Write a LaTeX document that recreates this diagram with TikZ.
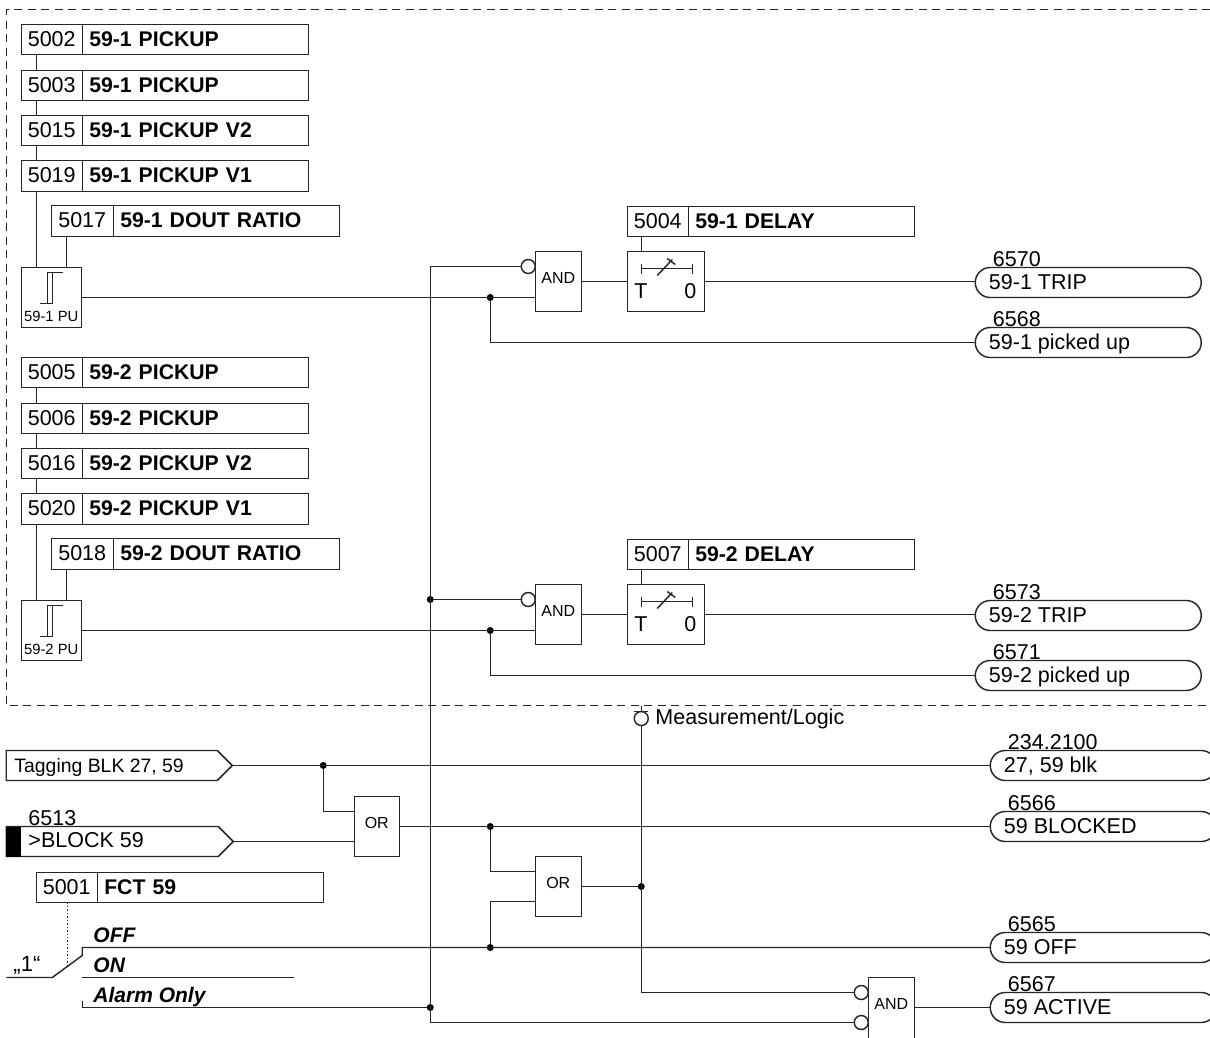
\documentclass[tikz,border=0pt]{standalone}
\usepackage{fontspec}
\setmainfont{Liberation Sans}
\usetikzlibrary{shapes.misc,calc}
\newcommand{\fsz}[1]{\fontsize{#1}{#1}\selectfont}
\tikzset{
  wire/.style={line width=1.45pt,draw=black!85},
  keybox/.style={draw=black!85,line width=1.45pt,anchor=north west,inner sep=0pt,outer sep=0pt,minimum width=61pt,minimum height=30pt,font=\fsz{21.5},text height=15.4pt,text depth=1.6pt},
  labbox/.style={draw=black!85,line width=1.45pt,anchor=north west,inner xsep=7pt,inner ysep=0pt,outer sep=0pt,text width=212pt,align=left,minimum height=30pt,font=\fsz{21.2}\bfseries,text height=15.4pt,text depth=1.6pt},
  gate/.style={draw=black!85,line width=1.45pt,anchor=north west,inner sep=0pt,outer sep=0pt,minimum width=46pt,minimum height=60pt,font=\fsz{16},text height=11.5pt,text depth=8pt},
  pubox/.style={draw=black!85,line width=1.45pt,anchor=north west,inner sep=0pt,outer sep=0pt,minimum width=60pt,minimum height=60pt},
  timerbox/.style={draw=black!85,line width=1.45pt,anchor=north west,inner sep=0pt,outer sep=0pt,minimum width=77pt,minimum height=60pt},
  outbox/.style={draw=black!85,line width=1.45pt,rounded rectangle,anchor=west,inner sep=0pt,outer sep=0pt,minimum width=226pt,minimum height=30pt},
  txt/.style={anchor=base west,inner sep=0pt,font=\fsz{21.5}},
  opt/.style={anchor=base west,inner sep=0pt,font=\fsz{21}\bfseries\itshape},
  neg/.style={circle,draw=black!85,line width=1.45pt,fill=white,inner sep=0pt,outer sep=0pt,minimum size=14pt},
  dot/.style={circle,fill=black,inner sep=0pt,outer sep=0pt,minimum size=7pt},
  frameline/.style={line width=1.45pt,draw=black!85,dash pattern=on 8pt off 5.5pt},
  putext/.style={anchor=base,inner sep=0pt,font=\fsz{14.8}},
}
% [options], name, x, y, number, label
\newcommand{\settingbox}[6][]{%
  \node[keybox,#1] (#2k) at (#3,#4) {#5};
  \node[labbox,#1] (#2l) at (#2k.north east) {#6};
}
% output: name, x, ycentre, number, text
\newcommand{\outsig}[5]{%
  \node[outbox] (#1) at (#2,#3) {};
  \node[txt] (#1t) at ($(#2,#3)+(13.5,6.5)$) {#5};
  \node[txt] (#1n) at ($(#2,#3)+(17.5,-16.5)$) {#4};
}
\begin{document}
\begin{tikzpicture}[x=1pt,y=-1pt]
\useasboundingbox (-0.25,-0.5) rectangle (1209.75,1036.5);
\fill[white] (-0.25,-0.5) rectangle (1209.75,1036.5);
\coordinate (ftr) at (1210,9); \coordinate (ftl) at (6,9);
\coordinate (fbl) at (6,705); \coordinate (fbr) at (1210,705);
\draw[frameline] (ftr) -- (ftl) -- (fbl) -- (fbr);

% ---- group 1
\settingbox{a1}{21}{24}{5002}{59-1 PICKUP}
\settingbox{b1}{21}{70}{5003}{59-1 PICKUP}
\settingbox{c1}{21}{115}{5015}{59-1 PICKUP V2}
\settingbox[minimum height=31pt]{e1}{21}{160}{5019}{59-1 PICKUP V1}
\node[keybox,minimum height=31pt,minimum width=62pt] (f1k) at (51,205) {5017};
\node[labbox,minimum height=31pt] (f1l) at (f1k.north east) {59-1 DOUT RATIO};
\node[pubox] (pu1) at (21,267) {};
\node[putext] (put1) at (51,321) {59-1 PU};
\draw[wire] (40,303) -- (52,303) -- (52,272) -- (63,272) (47,303) -- (47,272) -- (52,272);
\draw[wire] (36,0 |- a1k.south) -- (36,0 |- b1k.north);
\draw[wire] (36,0 |- b1k.south) -- (36,0 |- c1k.north);
\draw[wire] (36,0 |- c1k.south) -- (36,0 |- e1k.north);
\draw[wire] (36,0 |- e1k.south) -- (36,0 |- pu1.north);
\draw[wire] (66,0 |- f1k.south) -- (66,0 |- pu1.north);

% ---- group 2
\settingbox{a2}{21}{357}{5005}{59-2 PICKUP}
\settingbox{b2}{21}{403}{5006}{59-2 PICKUP}
\settingbox{c2}{21}{448}{5016}{59-2 PICKUP V2}
\settingbox[minimum height=31pt]{e2}{21}{493}{5020}{59-2 PICKUP V1}
\node[keybox,minimum height=31pt,minimum width=62pt] (f2k) at (51,538) {5018};
\node[labbox,minimum height=31pt] (f2l) at (f2k.north east) {59-2 DOUT RATIO};
\node[pubox] (pu2) at (21,600) {};
\node[putext] (put2) at (51,654) {59-2 PU};
\draw[wire] (40,636) -- (52,636) -- (52,605) -- (63,605) (47,636) -- (47,605) -- (52,605);
\draw[wire] (36,0 |- a2k.south) -- (36,0 |- b2k.north);
\draw[wire] (36,0 |- b2k.south) -- (36,0 |- c2k.north);
\draw[wire] (36,0 |- c2k.south) -- (36,0 |- e2k.north);
\draw[wire] (36,0 |- e2k.south) -- (36,0 |- pu2.north);
\draw[wire] (66,0 |- f2k.south) -- (66,0 |- pu2.north);

% ---- gates and timers
\node[gate] (and1) at (535,251) {AND};
\node[gate] (and2) at (535,584) {AND};
\node[neg] (inv1) at (528,266) {};
\node[neg] (inv2) at (528,599) {};
\settingbox{t1}{627}{206}{5004}{59-1 DELAY}
\settingbox{t2}{627}{539}{5007}{59-2 DELAY}
\node[timerbox] (tim1) at (627,251) {};
\node[timerbox] (tim2) at (627,584) {};
\node[txt] (tt1) at (634,298) {T};
\node[txt] (tz1) at (684,298) {0};
\node[txt] (tt2) at (634,631) {T};
\node[txt] (tz2) at (684,631) {0};
\foreach \d in {0,333}{
  \draw[wire] (641,263+\d) -- (641,273+\d) (641,268+\d) -- (692,268+\d) (692,263+\d) -- (692,273+\d);
  \draw[wire] (657,275+\d) -- (672,259+\d) (667,258+\d) -- (675,264+\d);
}
\outsig{o1}{975}{282}{6570}{59-1 TRIP}
\outsig{o2}{975}{342}{6568}{59-1 picked up}
\outsig{o3}{975}{615}{6573}{59-2 TRIP}
\outsig{o4}{975}{675}{6571}{59-2 picked up}
\node[dot] (d1) at (490,297) {};
\node[dot] (d2) at (490,630) {};
\draw[wire] (pu1.east) -- (and1.west |- pu1.east);
\draw[wire] (pu2.east) -- (and2.west |- pu2.east);
\draw[wire] (and1.east) -- (tim1.west);
\draw[wire] (and2.east) -- (tim2.west);
\draw[wire] (tim1.east) -- (o1.west |- tim1.east);
\draw[wire] (tim2.east) -- (o3.west |- tim2.east);
\draw[wire] (d1) |- (o2.west);
\draw[wire] (d2) |- (o4.west);
\draw[wire] (641,0 |- t1k.south) -- (641,0 |- tim1.north);
\draw[wire] (641,0 |- t2k.south) -- (641,0 |- tim2.north);

% ---- lower part
\coordinate (tagtip) at (232,765);
\draw[wire,fill=white] (6,750) -- (217,750) -- (tagtip) -- (217,780) -- (6,780) -- cycle;
\node[txt,font=\fsz{19.4}] (tagt) at (14,771.5) {Tagging BLK 27, 59};
\coordinate (blktip) at (233,841);
\draw[wire,fill=white] (6,826) -- (218,826) -- (blktip) -- (218,856) -- (6,856) -- cycle;
\fill[black] (5.5,826) rectangle (21,856.5);
\node[txt] (blkt) at (28,847) {>BLOCK 59};
\node[txt] (blkn) at (28,825) {6513};
\settingbox{fct}{36}{872}{5001}{FCT 59}
\node[gate,minimum width=45pt] (or1) at (354,796) {OR};
\node[gate] (or2) at (535,856) {OR};
\node[gate,minimum height=70pt,text depth=18pt] (and3) at (868,977) {AND};
\node[neg] (inv3) at (861,992) {};
\node[neg] (inv4) at (861,1022) {};
\node[neg] (invm) at (641,718) {};
\node[txt] (ml) at (655,724) {Measurement/Logic};
\outsig{o5}{990}{765}{234.2100}{27, 59 blk}
\outsig{o6}{990}{826}{6566}{59 BLOCKED}
\outsig{o7}{990}{947}{6565}{59 OFF}
\outsig{o8}{990}{1007}{6567}{59 ACTIVE}
\node[dot] (d3) at (323,765) {};
\node[dot] (d4) at (490,826) {};
\node[dot] (d5) at (490,947) {};
\node[dot] (d6) at (641,886) {};
\node[dot] (d7) at (430,599) {};
\node[dot] (d8) at (430,1007) {};
\draw[wire] (tagtip) -- (o5.west);
\draw[wire] (d3) |- (or1.west |- 0,811);
\draw[wire] (blktip) -- (or1.west |- blktip);
\draw[wire] (or1.east) -- (o6.west);
\draw[wire] (d4) |- (or2.west |- 0,871);
\draw[wire] (d5) |- (or2.west |- 0,901);
\draw[wire] (or2.east) -- (d6);
% trunk from the first inverter down to the last one
\coordinate (trtop) at (430,266);
\coordinate (trbot) at (430,1022);
\draw[wire] (inv1.west) -- (trtop) -- (trbot) -- (inv4.west);
\draw[wire] (d7) -- (inv2.west);
% measurement/logic line
\coordinate (mtop) at (641,705);
\draw[wire] (mtop) -- (641,711);
\draw[wire] (634,711) -- (648,711);
\draw[wire] (invm.south) |- (inv3.west);
\draw[wire] (and3.east |- o8.west) -- (o8.west);
% switch
\coordinate (sw0) at (6,977);
\coordinate (sw1) at (52,977);
\coordinate (sw2) at (82,955);
\coordinate (swoff) at (82,947);
\coordinate (swon) at (82,977);
\coordinate (swal) at (82,1000);
\draw[wire] (sw0) -- (sw1) -- (sw2) -- (swoff) -- (o7.west);
\draw[wire] (swon) -- (294,977);
\draw[wire] (swal) -- (82,1007) -- (d8);
\draw[wire,dotted] (67,0 |- fctk.south) -- (67,965);
\node[opt] (off) at (93,942) {OFF};
\node[opt] (on) at (93,972) {ON};
\node[opt] (al) at (93,1002) {Alarm Only};
\node[anchor=base west,inner sep=0pt,font=\fsz{22}] (one) at (13,971) {„1“};
\end{tikzpicture}
\end{document}
